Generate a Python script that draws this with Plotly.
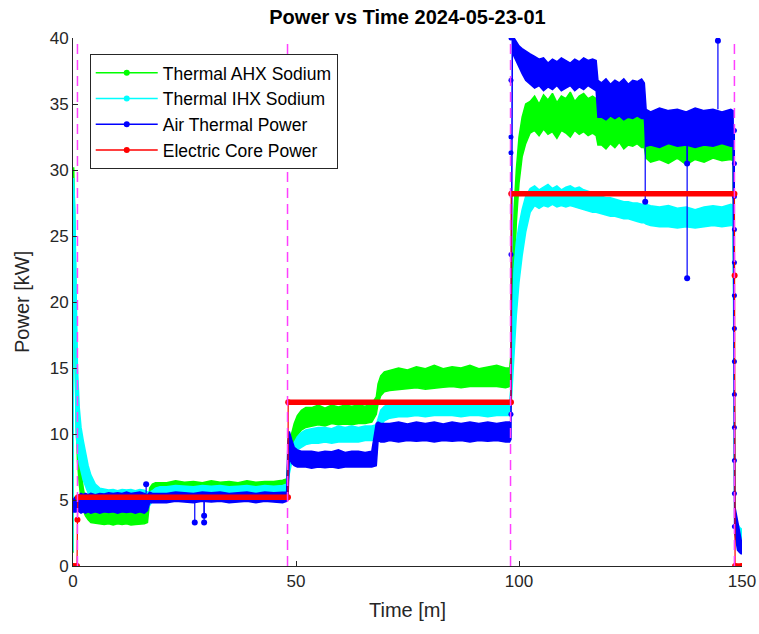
import plotly.graph_objects as go

# ---------------- data ----------------
# common time grid [min]
T = [0, 0.15, 0.4, 0.7, 1.0, 1.4, 1.8, 2.3, 2.8, 3.4, 4.0,
     5, 6, 7, 8, 9, 10, 11, 12, 13, 14, 15, 16,
     16.7, 17.2, 17.8, 18.5, 19.5,
     21, 23, 25, 27, 29, 31, 33, 35, 37, 39, 41, 43, 45, 47, 47.9,
     48.2, 48.5, 49.0, 49.6, 50.3, 51.2, 52.2,
     53.5, 55, 56.5, 58, 59.5, 61, 62.5, 64, 65.5, 67,
     68.0, 68.4, 69.0, 69.8,
     71, 73, 75, 77, 79, 81, 83, 85, 87, 89, 91, 93, 95, 97, 97.9,
     98.2, 98.5, 98.9, 99.4, 100.0, 100.7, 101.5,
     102.5, 103.5, 104.5, 105.5, 106.5, 107.5, 108.5, 109.5, 110.5, 111.5, 112.5, 113.5, 114.5, 115.5, 116.5,
     117.3, 117.7,
     118.5, 119.5, 120.5, 121.5, 122.5, 123.5, 124.5, 125.5, 126.5, 127.5,
     128.1,
     128.5, 129.5, 131.5, 133.5, 135.5, 137.5, 139.5, 141.5, 143.5, 145.5, 147.5,
     148.0, 148.4, 149.0, 149.5, 149.9]

# Thermal AHX Sodium: lower / upper edge of the noisy band [kW]
AHX_LO = [1.0, 29.4, 18.0, 11.0, 8.0, 6.2, 5.0, 4.2, 3.8, 3.5, 3.3,
          3.3, 3.2, 3.15, 3.2, 3.1, 3.2, 3.15, 3.2, 3.1, 3.15, 3.2, 3.2,
          3.3, 5.0, 5.4, 5.5, 5.6,
          5.6, 5.7, 5.65, 5.7, 5.6, 5.65, 5.7, 5.6, 5.7, 5.65, 5.7, 5.6, 5.7, 5.7, 5.8,
          6.5, 7.5, 8.5, 9.3, 9.9, 10.3, 10.5,
          10.6, 10.7, 10.6, 10.8, 10.7, 10.75, 10.7, 10.8, 10.8, 10.9,
          11.5, 12.3, 12.9, 13.2,
          13.3, 13.4, 13.45, 13.5, 13.4, 13.5, 13.55, 13.6, 13.5, 13.6, 13.55, 13.6, 13.6, 13.5, 13.6,
          14.0, 17.0, 22.0, 26.0, 29.0, 31.0, 32.0,
          32.8, 33.0, 32.6, 33.1, 32.7, 32.9, 32.4, 33.0, 32.8, 32.5, 33.0, 32.7, 32.9, 32.6, 32.8,
          32.6, 31.9,
          31.9, 31.6, 32.0, 31.7, 32.1, 31.6, 31.9, 31.8, 32.0, 31.7,
          31.7,
          30.9, 30.6, 30.8, 30.5, 30.9, 30.4, 30.8, 30.6, 30.9, 30.7, 30.8,
          30.7, 2.5, 1.8, 1.5, 1.5]
AHX_HI = [1.4, 30.2, 26.0, 18.0, 12.0, 9.0, 7.2, 5.9, 5.0, 4.6, 4.4,
          4.3, 4.2, 4.2, 4.1, 4.2, 4.1, 4.2, 4.2, 4.1, 4.2, 4.1, 4.2,
          4.3, 5.9, 6.2, 6.3, 6.3,
          6.3, 6.45, 6.35, 6.4, 6.3, 6.45, 6.35, 6.4, 6.3, 6.45, 6.35, 6.4, 6.4, 6.5, 6.6,
          8.0, 9.0, 10.0, 10.8, 11.4, 11.8, 12.0,
          12.0, 12.2, 11.95, 12.2, 12.05, 12.2, 12.1, 12.2, 12.1, 12.3,
          12.8, 13.8, 14.4, 14.7,
          14.8, 15.0, 14.85, 15.1, 14.95, 15.2, 14.95, 15.1, 15.0, 15.2, 14.95, 15.1, 15.2, 15.0, 15.0,
          16.0, 22.0, 27.0, 30.0, 32.5, 34.0, 35.0,
          35.2, 35.6, 35.0, 35.7, 35.3, 35.8, 35.1, 35.6, 35.4, 35.9, 35.2, 35.6, 35.8, 35.4, 35.6,
          35.4, 34.3,
          34.2, 34.4, 33.9, 34.3, 34.0, 34.4, 34.1, 34.3, 34.0, 34.2,
          34.0,
          32.8, 32.5, 32.9, 32.6, 32.8, 32.4, 32.9, 32.6, 32.8, 32.5, 32.7,
          32.7, 4.0, 3.0, 2.6, 2.4]

# Thermal IHX Sodium
IHX_LO = [1.1, 28.4, 18.0, 10.0, 8.8, 7.8, 7.2, 6.5, 6.0, 5.5, 5.0,
          4.6, 4.4, 4.3, 4.3, 4.2, 4.3, 4.2, 4.3, 4.3, 4.2, 4.3, 4.3,
          4.3, 4.6, 4.9, 5.1, 5.3,
          5.3, 5.3, 5.3, 5.3, 5.3, 5.3, 5.3, 5.3, 5.3, 5.3, 5.3, 5.3, 5.3, 5.3, 5.4,
          6.0, 7.0, 7.8, 8.4, 8.8, 9.0, 9.2,
          9.3, 9.3, 9.4, 9.3, 9.4, 9.4, 9.4, 9.4, 9.5, 9.5,
          9.6, 10.0, 10.6, 11.0,
          11.2, 11.3, 11.3, 11.4, 11.3, 11.4, 11.4, 11.4, 11.3, 11.4, 11.4, 11.3, 11.4, 11.4, 11.4,
          12.0, 13.5, 16.0, 19.0, 21.5, 23.5, 25.3,
          26.8, 27.3, 27.1, 27.3, 27.2, 27.4, 27.2, 27.3, 27.2, 27.3, 27.2, 27.1, 27.0, 26.9, 26.8,
          26.8, 26.8,
          26.7, 26.6, 26.5, 26.5, 26.4, 26.3, 26.3, 26.2, 26.1, 26.0,
          26.0,
          25.9, 25.8, 25.7, 25.7, 25.6, 25.7, 25.6, 25.7, 25.8, 25.7, 25.8,
          25.8, 2.5, 2.0, 1.8, 2.0]
IHX_HI = [1.5, 29.4, 27.0, 20.0, 15.0, 12.0, 10.5, 9.5, 8.5, 7.6, 6.9,
          6.2, 5.9, 5.8, 5.75, 5.8, 5.7, 5.8, 5.75, 5.8, 5.7, 5.8, 5.75,
          5.6, 5.6, 5.7, 5.9, 6.0,
          6.0, 6.1, 6.05, 6.0, 6.1, 6.05, 6.1, 6.0, 6.05, 6.1, 6.0, 6.1, 6.05, 6.1, 6.2,
          7.0, 8.2, 9.0, 9.4, 9.8, 10.1, 10.3,
          10.4, 10.5, 10.5, 10.4, 10.6, 10.5, 10.6, 10.5, 10.6, 10.6,
          10.7, 11.2, 11.8, 12.1,
          12.3, 12.4, 12.4, 12.5, 12.4, 12.5, 12.5, 12.5, 12.4, 12.5, 12.5, 12.4, 12.5, 12.5, 12.5,
          13.5, 19.0, 22.5, 24.5, 25.8, 27.0, 28.0,
          28.6, 28.8, 28.5, 28.7, 28.9, 28.6, 28.8, 28.5, 28.7, 28.8, 28.6, 28.7, 28.5, 28.4, 28.3,
          28.2, 28.1,
          28.0, 27.9, 27.9, 27.8, 27.7, 27.6, 27.6, 27.5, 27.5, 27.4,
          27.4,
          27.4, 27.3, 27.2, 27.3, 27.1, 27.2, 27.0, 27.2, 27.3, 27.2, 27.4,
          27.3, 4.0, 3.2, 2.9, 2.8]

# Air Thermal Power
AIR_LO = [4.2, 4.1, 4.1, 4.1, 4.2, 4.1, 4.0, 4.1, 4.0, 4.1, 4.0,
          4.1, 4.0, 4.1, 4.05, 4.1, 4.0, 4.1, 4.05, 4.1, 4.0, 4.1, 4.0,
          4.2, 4.8, 4.8, 4.8, 4.8,
          4.8, 4.9, 4.85, 4.8, 4.9, 4.85, 4.9, 4.8, 4.85, 4.9, 4.8, 4.9, 4.85, 4.8, 4.9,
          5.0, 8.2, 7.8, 7.6, 7.5, 7.5, 7.5,
          7.4, 7.5, 7.45, 7.5, 7.4, 7.5, 7.45, 7.5, 7.5, 7.5,
          7.6, 9.5, 9.4, 9.4,
          9.5, 9.4, 9.5, 9.45, 9.5, 9.4, 9.5, 9.45, 9.5, 9.4, 9.5, 9.45, 9.5, 9.4, 9.4,
          9.6, 39.0, 38.6, 38.2, 37.8, 37.3, 36.8,
          36.5, 36.2, 36.4, 36.0, 36.3, 36.1, 36.4, 36.0, 36.2, 36.4, 36.0, 36.3, 36.1, 36.4, 36.2,
          36.0, 34.0,
          34.0, 33.8, 34.1, 33.9, 34.1, 33.8, 34.0, 33.9, 34.1, 33.9,
          33.9,
          31.8, 31.9, 31.7, 32.0, 31.8, 31.9, 31.7, 31.9, 31.8, 32.0, 31.8,
          31.8, 2.5, 1.2, 1.0, 0.9]
AIR_HI = [5.0, 5.1, 5.2, 5.2, 5.3, 5.4, 5.5, 5.4, 5.5, 5.4, 5.5,
          5.4, 5.5, 5.45, 5.55, 5.5, 5.55, 5.5, 5.6, 5.5, 5.55, 5.6, 5.5,
          5.4, 5.6, 5.5, 5.5, 5.5,
          5.5, 5.6, 5.55, 5.5, 5.6, 5.55, 5.6, 5.5, 5.55, 5.6, 5.5, 5.6, 5.55, 5.6, 5.6,
          9.5, 10.2, 9.6, 9.0, 8.8, 8.7, 8.7,
          8.7, 8.6, 8.7, 8.65, 8.8, 8.6, 8.7, 8.7, 8.6, 8.7,
          10.8, 10.9, 10.8, 10.8,
          10.8, 10.9, 10.75, 10.9, 10.8, 10.9, 10.75, 10.9, 10.8, 10.9, 10.8, 10.9, 10.8, 10.9, 10.9,
          11.0, 40.2, 40.0, 39.7, 39.4, 39.2, 39.0,
          38.8, 38.6, 38.4, 38.5, 38.1, 38.4, 38.2, 38.5, 38.3, 38.1, 38.4, 38.2, 38.5, 38.3, 38.4,
          38.3, 36.8,
          36.6, 36.9, 36.5, 36.8, 36.6, 36.9, 36.5, 36.8, 36.7, 36.9,
          36.6,
          34.6, 34.4, 34.7, 34.5, 34.6, 34.4, 34.7, 34.5, 34.6, 34.4, 34.6,
          34.5, 4.5, 3.5, 2.6, 1.8]

# isolated Air Thermal Power outliers: time, band value, outlier value
AIR_SPIKE_T = [16.4, 27.3, 29.4, 29.4, 128.3, 137.7, 137.7, 144.6]
AIR_SPIKE_BASE = [5.5, 4.9, 4.9, 4.9, 34.0, 32.0, 32.0, 34.6]
AIR_SPIKE_V = [6.2, 3.3, 3.8, 3.3, 27.6, 30.5, 21.8, 39.8]

# Air Thermal Power samples on the two big steps
AIR_RISE_T = 98.2
AIR_RISE_V = [11.5, 23.6, 31.3, 32.5, 36.8, 40.0]
AIR_DROP_T = 148.3
AIR_DROP_V = [33.0, 30.5, 28.0, 25.5, 23.0, 20.5, 18.0, 15.5, 13.0, 10.5, 8.0, 5.5, 3.0]

# Electric Core Power (step profile)
CORE_T = [0, 0.9, 1.0, 1.1, 48.2, 48.25, 98.2, 98.25, 148.3, 148.35, 148.45, 150]
CORE_V = [0, 0, 3.5, 5.2, 5.2, 12.4, 12.4, 28.2, 28.2, 22.0, 0, 0]
# plateaus of the core power: start, end, level
CORE_PLATEAU_T0 = [0, 1.1, 48.25, 98.25, 148.45]
CORE_PLATEAU_T1 = [0.9, 48.2, 98.2, 148.3, 150]
CORE_PLATEAU_V = [0, 5.2, 12.4, 28.2, 0]

# dashed markers of the power steps
STEP_T = [1.0, 48.1, 98.1, 148.3]

SERIES = ["Thermal AHX Sodium", "Thermal IHX Sodium", "Air Thermal Power", "Electric Core Power"]
COLORS = ["#00ff00", "#00ffff", "#0000ff", "#ff0000"]
X_TICKS = [0, 50, 100, 150]
Y_TICKS = [0, 5, 10, 15, 20, 25, 30, 35, 40]

# ---------------- figure ----------------
fig = go.Figure()


def band(lo, hi, color):
    xs = T + T[::-1]
    ys = hi + lo[::-1]
    fig.add_trace(go.Scatter(x=xs, y=ys, mode="lines", fill="toself",
                             fillcolor=color, line=dict(color=color, width=1.5),
                             hoverinfo="skip", showlegend=False))


band(AHX_LO, AHX_HI, COLORS[0])
band(IHX_LO, IHX_HI, COLORS[1])
band(AIR_LO, AIR_HI, COLORS[2])

# outliers of the air power
sx, sy = [], []
for t, b, v in zip(AIR_SPIKE_T, AIR_SPIKE_BASE, AIR_SPIKE_V):
    sx += [t, t, None]
    sy += [b, v, None]
fig.add_trace(go.Scatter(x=sx, y=sy, mode="lines", line=dict(color=COLORS[2], width=1.2),
                         hoverinfo="skip", showlegend=False))
fig.add_trace(go.Scatter(x=AIR_SPIKE_T, y=AIR_SPIKE_V, mode="markers",
                         marker=dict(color=COLORS[2], size=6), hoverinfo="skip", showlegend=False))
fig.add_trace(go.Scatter(x=[AIR_RISE_T] * len(AIR_RISE_V), y=AIR_RISE_V, mode="markers",
                         marker=dict(color=COLORS[2], size=5), hoverinfo="skip", showlegend=False))
fig.add_trace(go.Scatter(x=[AIR_DROP_T] * len(AIR_DROP_V), y=AIR_DROP_V, mode="lines+markers",
                         line=dict(color=COLORS[2], width=1.2),
                         marker=dict(color=COLORS[2], size=5), hoverinfo="skip", showlegend=False))

# electric core power: thin connecting line with sample dots, dense (thick) plateaus
fig.add_trace(go.Scatter(x=CORE_T, y=CORE_V, mode="lines+markers",
                         line=dict(color=COLORS[3], width=1.2),
                         marker=dict(color=COLORS[3], size=6),
                         hoverinfo="skip", showlegend=False))
px_, py_ = [], []
for a, b, v in zip(CORE_PLATEAU_T0, CORE_PLATEAU_T1, CORE_PLATEAU_V):
    px_ += [a, b, None]
    py_ += [v, v, None]
fig.add_trace(go.Scatter(x=px_, y=py_, mode="lines", line=dict(color=COLORS[3], width=5.5),
                         hoverinfo="skip", showlegend=False, cliponaxis=False))

# legend entries
for name, color in zip(SERIES, COLORS):
    fig.add_trace(go.Scatter(x=[None], y=[None], mode="lines+markers", name=name,
                             line=dict(color=color, width=1.5),
                             marker=dict(color=color, size=6)))

for t in STEP_T:
    fig.add_shape(type="line", xref="x", yref="paper", x0=t, x1=t, y0=0, y1=1,
                  line=dict(color="#ff40ff", width=1.5, dash="10px,6px"), layer="above")

W, H = 759, 634
FONT = "Liberation Sans, Arial, Helvetica, sans-serif"
fig.update_layout(
    width=W, height=H,
    margin=dict(l=73, r=17, t=38, b=68, autoexpand=False),
    paper_bgcolor="white", plot_bgcolor="white",
    font=dict(family=FONT, color="#262626"),
    title=dict(text="<b>Power vs Time 2024-05-23-01</b>", x=0.5, xref="paper", xanchor="center",
               y=1 - 17 / H, yref="container", yanchor="middle",
               font=dict(size=20, color="black", family=FONT)),
    showlegend=True,
    legend=dict(x=0.025, y=0.97, xanchor="left", yanchor="top", bgcolor="white",
                bordercolor="#262626", borderwidth=1, font=dict(size=17.5, color="black"),
                itemwidth=62, tracegroupgap=0),
    annotations=[
        dict(text="Time [m]", xref="paper", yref="paper", x=0.5, y=-(610 - 566) / 528,
             xanchor="center", yanchor="middle", showarrow=False,
             font=dict(size=20, color="#262626", family=FONT)),
        dict(text="Power [kW]", xref="paper", yref="paper", x=-(73 - 22) / 669, y=0.5,
             xanchor="center", yanchor="middle", textangle=-90, showarrow=False,
             font=dict(size=20, color="#262626", family=FONT)),
    ],
)
fig.update_xaxes(range=[0, 150], tickvals=X_TICKS, ticks="inside", ticklen=5,
                 tickcolor="#262626", showline=True, linecolor="#262626", linewidth=1,
                 showgrid=False, zeroline=False, tickfont=dict(size=17), mirror=False,
                 automargin=False)
fig.update_yaxes(range=[0, 40], tickvals=Y_TICKS, ticks="inside", ticklen=5,
                 tickcolor="#262626", showline=True, linecolor="#262626", linewidth=1,
                 showgrid=False, zeroline=False, tickfont=dict(size=17), mirror=False,
                 automargin=False)

# let the figure fill the window exactly (no default page margin), no mode bar
fig.write_html("out.html",
               config={"displayModeBar": False},
               post_script="document.body.style.margin='0px';document.body.style.overflow='hidden';")
